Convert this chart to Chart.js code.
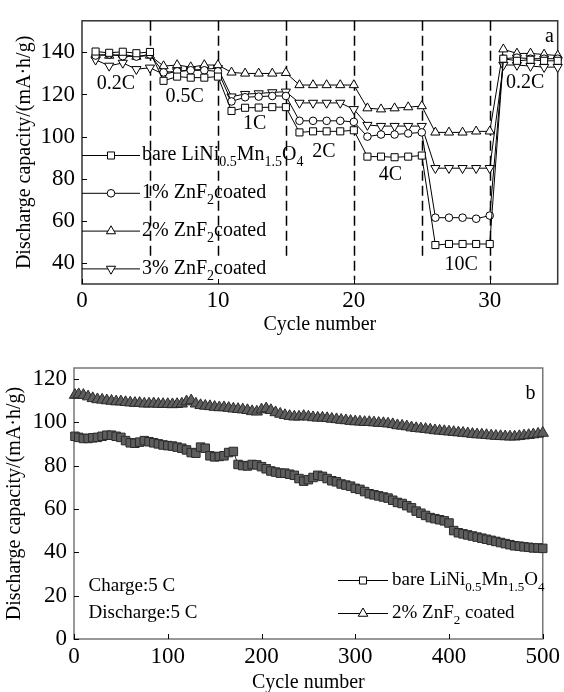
<!DOCTYPE html>
<html>
<head>
<meta charset="utf-8">
<script src="https://cdn.jsdelivr.net/npm/chart.js@4.4.1/dist/chart.umd.min.js"></script>
<style>
  html, body { margin: 0; padding: 0; background: #fff; }
  canvas { position: absolute; left: 0; }
  #rate { top: 0; }
  #cycle { top: 340px; }
</style>
</head>
<body>
<canvas id="rate" width="564" height="340"></canvas>
<canvas id="cycle" width="564" height="352"></canvas>
<script>
// ---- (a) rate capability ----
const rateCycles = [1, 2, 3, 4, 5, 6, 7, 8, 9, 10, 11, 12, 13, 14, 15, 16, 17, 18, 19, 20,
  21, 22, 23, 24, 25, 26, 27, 28, 29, 30, 31, 32, 33, 34, 35];
const rateBare = [140.4, 139.8, 140.3, 139.6, 140.2, 126.5, 128.5, 128, 128, 128.5,
  112.2, 113.7, 113.8, 114, 114, 102, 102.5, 102.5, 102.5, 103,
  90.5, 90.5, 90.2, 90.5, 91, 48.5, 49, 49, 49, 49,
  137, 136, 136.5, 136, 136];
const rateZn1 = [138.5, 139, 138.2, 138, 139, 130.5, 131, 131.5, 131.5, 131,
  116.7, 118.7, 119, 119.3, 119.3, 107.5, 107.5, 107.5, 107.5, 107,
  100, 101, 101, 101.5, 102, 61.5, 61.5, 61.5, 61, 62.5,
  137, 137.5, 137, 137, 137];
const rateZn2 = [139, 138.5, 139, 138, 138.5, 133.5, 134, 133, 134, 134,
  130.5, 130, 130, 130, 130.3, 124.5, 124.5, 124.5, 124.5, 124.5,
  113.5, 113, 113.5, 114, 114.5, 102, 102, 102, 102.5, 102.5,
  141.5, 139.5, 139.5, 139, 138.5];
const rateZn3 = [136.5, 133.6, 135, 132, 132.7, 129.6, 131, 131.5, 132, 132.5,
  119, 120.2, 120.5, 121, 121.3, 116, 116, 116, 116, 113,
  105.5, 105, 105, 105, 105, 85, 85, 85, 85, 85,
  134, 134, 133.5, 133, 133];
const rateNames = ['bare LiNi_{0.5}Mn_{1.5}O_{4}', '1% ZnF_{2}coated', '2% ZnF_{2}coated', '3% ZnF_{2}coated'];
const rateSteps = ['0.2C', '0.5C', '1C', '2C', '4C', '10C', '0.2C'];
const rateBounds = [5, 10, 15, 20, 25, 30];
const rateXTicks = [0, 10, 20, 30];
const rateYTicks = [40, 60, 80, 100, 120, 140];

// ---- (b) cycling at 5C ----
const longCycles = [1, 5, 10, 15, 20, 25, 30, 35, 40, 45, 50, 55, 60, 65, 70, 75, 80, 85, 90, 95,
  100, 105, 110, 115, 120, 125, 130, 135, 140, 145, 150, 155, 160, 165, 170, 175, 180, 185, 190, 195,
  200, 205, 210, 215, 220, 225, 230, 235, 240, 245, 250, 255, 260, 265, 270, 275, 280, 285, 290, 295,
  300, 305, 310, 315, 320, 325, 330, 335, 340, 345, 350, 355, 360, 365, 370, 375, 380, 385, 390, 395,
  400, 405, 410, 415, 420, 425, 430, 435, 440, 445, 450, 455, 460, 465, 470, 475, 480, 485, 490, 495, 500];
const longBare = [93.5, 93, 92.5, 92.5, 92.8, 93, 93.5, 94, 94, 93.5,
  93, 91.5, 90.5, 90.3, 90.8, 91.5, 91, 90.5, 90, 89.5,
  89.2, 89, 88.5, 88, 87.2, 86, 85.7, 88.5, 88, 84.5,
  84, 84.2, 84.5, 86, 86.5, 80.5, 80, 79.8, 80.5, 80.3,
  79.5, 78.5, 77.5, 77, 76.5, 76.5, 76, 75.5, 74, 72.8,
  73.5, 74.5, 75.5, 75, 74, 73, 72.5, 71.5, 71, 70.5,
  69.5, 69, 68, 67, 66.5, 66, 65.5, 65, 64, 63,
  62.5, 61.5, 60.5, 59, 58, 57, 56, 55.5, 55, 54.5,
  53.5, 50, 49, 48.5, 48, 47.5, 47, 46.5, 46, 45.5,
  45, 44.5, 44, 43.5, 43, 42.8, 42.5, 42.3, 42, 42,
  41.8];
const longZn2 = [112.5, 112.8, 112.5, 111.8, 111, 110.5, 110.3, 110, 109.8, 109.5,
  109.5, 109.2, 109, 108.8, 108.8, 108.5, 108.5, 108.6, 108.4, 108.3,
  108.3, 108.2, 108.3, 108.5, 109.5, 110, 108.5, 107.8, 107.5, 107.3,
  107, 106.8, 106.8, 106.5, 106.2, 106, 105.8, 105.5, 105, 104.8,
  105.8, 106.3, 105.5, 104.5, 103.8, 103.2, 102.8, 102.5, 102.5, 102.8,
  102.5, 102.2, 102, 102, 101.8, 101.5, 101.3, 101, 100.8, 100.5,
  100.3, 100.2, 100, 100, 99.8, 99.6, 99.5, 99.3, 99, 98.5,
  98.3, 98, 97.5, 97.2, 97, 96.8, 96.5, 96.2, 96, 95.8,
  95.6, 95.4, 95.2, 95, 94.8, 94.5, 94.3, 94.2, 94, 93.8,
  93.6, 93.5, 93.4, 93.3, 93.3, 93.5, 93.8, 94, 94.3, 94.6,
  95];
const longNames = ['bare LiNi_{0.5}Mn_{1.5}O_{4}', '2% ZnF_{2} coated'];
const longNotes = ['Charge:5 C', 'Discharge:5 C'];
const longXTicks = [0, 100, 200, 300, 400, 500];
const longYTicks = [0, 20, 40, 60, 80, 100, 120];

const yTitle = 'Discharge capacity/(mA\u00b7h/g)';
const xTitle = 'Cycle number';
const SERIF = "'Liberation Serif', 'Times New Roman', serif";

Chart.defaults.color = '#000';
Chart.defaults.font.family = SERIF;

// text with _{...} subscripts
function richText(ctx, str, x, y, size) {
  const parts = str.split(/(_\{[^}]*\})/).filter(Boolean)
    .map(s => s.startsWith('_{') ? [s.slice(2, -1), true] : [s, false]);
  const sub = Math.round(size * 0.68);
  ctx.textAlign = 'left';
  ctx.textBaseline = 'middle';
  let cx = x;
  parts.forEach(([t, isSub]) => {
    ctx.font = (isSub ? sub : size) + 'px ' + SERIF;
    ctx.fillText(t, cx, isSub ? y + size * 0.38 : y);
    cx += ctx.measureText(t).width;
  });
}

function pointOpts(ds) {
  return { pointStyle: ds.pointStyle, rotation: ds.pointRotation || 0, radius: ds.legendRadius || ds.pointRadius, borderWidth: 1 };
}

// box around the plot and inward tick marks
const frame = {
  id: 'frame',
  beforeDatasetsDraw(chart, args, o) {
    const { ctx, chartArea: a, scales } = chart;
    ctx.save();
    ctx.strokeStyle = o.color;
    ctx.lineWidth = o.width;
    ctx.strokeRect(a.left, a.top, a.right - a.left, a.bottom - a.top);
    ctx.strokeStyle = '#000';
    ctx.lineWidth = 1;
    ctx.beginPath();
    scales.x.ticks.forEach(t => {
      const p = Math.round(scales.x.getPixelForValue(t.value)) + 0.5;
      ctx.moveTo(p, a.bottom);
      ctx.lineTo(p, a.bottom - o.tick);
    });
    scales.y.ticks.forEach(t => {
      const p = Math.round(scales.y.getPixelForValue(t.value)) + 0.5;
      ctx.moveTo(a.left, p);
      ctx.lineTo(a.left + o.tick, p);
    });
    ctx.stroke();
    ctx.restore();
  }
};

// dashed separators between C-rates
const rateDashes = {
  id: 'rateDashes',
  beforeDatasetsDraw(chart, args, o) {
    const { ctx, chartArea: a, scales: { x, y } } = chart;
    ctx.save();
    ctx.strokeStyle = '#000';
    ctx.lineWidth = 1.5;
    ctx.setLineDash([10, 5]);
    rateBounds.forEach((b, i) => {
      const px = Math.round(x.getPixelForValue(b)) + 0.5;
      ctx.beginPath();
      ctx.moveTo(px, a.top);
      ctx.lineTo(px, y.getPixelForValue(o.ends[i]));
      ctx.stroke();
    });
    ctx.restore();
  }
};

// legend drawn inside the plot: line, marker, label
const inLegend = {
  id: 'inLegend',
  afterDatasetsDraw(chart, args, o) {
    const ctx = chart.ctx;
    ctx.save();
    o.order.forEach((di, row) => {
      const ds = chart.data.datasets[di];
      const y = o.y0 + row * o.dy;
      ctx.strokeStyle = '#000';
      ctx.lineWidth = 1;
      ctx.beginPath();
      ctx.moveTo(o.x0, y + 0.5);
      ctx.lineTo(o.x1, y + 0.5);
      ctx.stroke();
      ctx.fillStyle = '#fff';
      ctx.strokeStyle = '#000';
      Chart.helpers.drawPoint(ctx, pointOpts(ds), (o.x0 + o.x1) / 2, y + 0.5);
      ctx.fillStyle = '#000';
      richText(ctx, ds.label, o.x1 + o.gap, y, o.size);
    });
    ctx.restore();
  }
};

// free text placed in data coordinates
const notes = {
  id: 'notes',
  afterDatasetsDraw(chart, args, o) {
    const { ctx, scales: { x, y } } = chart;
    ctx.save();
    ctx.fillStyle = '#000';
    ctx.textBaseline = 'middle';
    o.items.forEach(it => {
      ctx.font = it.size + 'px ' + SERIF;
      ctx.textAlign = it.align || 'center';
      ctx.fillText(it.text, x.getPixelForValue(it.at[0]), y.getPixelForValue(it.at[1]));
    });
    ctx.restore();
  }
};

function axis(min, max, ticks, size, pad, opts) {
  return Object.assign({
    type: 'linear', min, max,
    grid: { display: false, drawTicks: false },
    border: { display: false },
    afterBuildTicks: s => { s.ticks = ticks.map(v => ({ value: v })); },
    ticks: { font: { size: size }, padding: pad }
  }, opts);
}

const rateMarks = [
  { pointStyle: 'rect', pointRadius: 5 },
  { pointStyle: 'circle', pointRadius: 3.8 },
  { pointStyle: 'triangle', pointRadius: 5.3 },
  { pointStyle: 'triangle', pointRadius: 5.3, pointRotation: 180 }
];
const rateSeries = [rateBare, rateZn1, rateZn2, rateZn3];

new Chart(document.getElementById('rate'), {
  type: 'line',
  data: {
    datasets: rateSeries.map((vals, i) => Object.assign({
      label: rateNames[i],
      data: rateCycles.map((c, k) => ({ x: c, y: vals[k] })),
      borderColor: '#000',
      borderWidth: 1,
      pointBackgroundColor: '#fff',
      pointBorderColor: '#000',
      pointBorderWidth: 1,
      tension: 0,
      clip: false
    }, rateMarks[i]))
  },
  options: {
    responsive: false,
    animation: false,
    devicePixelRatio: 1,
    layout: { padding: { top: 12, right: 2, left: 0, bottom: 0 } },
    scales: {
      x: axis(0, 35, rateXTicks, 23, 3, {
        afterFit: s => { s.height = 56; },
        title: { display: true, text: xTitle, font: { size: 20, lineHeight: 1 }, padding: { top: 0, bottom: 5 } }
      }),
      y: axis(30, 155, rateYTicks, 23, 7, {
        afterFit: s => { s.width = 82; },
        title: { display: true, text: yTitle, font: { size: 20, lineHeight: 1 }, padding: { top: 15, bottom: 0 } }
      })
    },
    plugins: {
      legend: { display: false },
      tooltip: { enabled: false },
      frame: { color: '#333', width: 1.5, tick: 5 },
      rateDashes: { ends: [41, 41, 41, 32, 43, 32] },
      inLegend: { order: [0, 1, 2, 3], x0: 82, x1: 140, y0: 155, dy: 37.8, gap: 2, size: 20 },
      notes: {
        items: [
          { text: rateSteps[0], at: [2.5, 125], size: 20 },
          { text: rateSteps[1], at: [7.55, 118.7], size: 20 },
          { text: rateSteps[2], at: [12.7, 106], size: 20 },
          { text: rateSteps[3], at: [17.8, 92.8], size: 20 },
          { text: rateSteps[4], at: [22.7, 81.7], size: 20 },
          { text: rateSteps[5], at: [27.9, 39.2], size: 20 },
          { text: rateSteps[6], at: [32.6, 125.4], size: 20 },
          { text: 'a', at: [34.4, 147.5], size: 20 }
        ]
      }
    }
  },
  plugins: [frame, rateDashes, inLegend, notes]
});

const longMarks = [
  { pointStyle: 'rect', pointRadius: 6, legendRadius: 5 },
  { pointStyle: 'triangle', pointRadius: 6.5, legendRadius: 5.5 }
];
const longSeries = [longBare, longZn2];

new Chart(document.getElementById('cycle'), {
  type: 'line',
  data: {
    datasets: longSeries.map((vals, i) => Object.assign({
      label: longNames[i],
      data: longCycles.map((c, k) => ({ x: c, y: vals[k] })),
      borderColor: '#222',
      borderWidth: 1,
      pointBackgroundColor: '#5e5e5e',
      pointBorderColor: '#2a2a2a',
      pointBorderWidth: 1,
      tension: 0,
      clip: false
    }, longMarks[i]))
  },
  options: {
    responsive: false,
    animation: false,
    devicePixelRatio: 1,
    layout: { padding: { top: 28, right: 9, left: 0, bottom: 0 } },
    scales: {
      x: axis(0, 500, longXTicks, 23, 4, {
        afterFit: s => { s.height = 53; },
        title: { display: true, text: xTitle, font: { size: 20, lineHeight: 1 }, padding: { top: 0, bottom: -1 } }
      }),
      y: axis(0, 125, longYTicks, 23, 7, {
        afterFit: s => { s.width = 74; },
        title: { display: true, text: yTitle, font: { size: 20, lineHeight: 1 }, padding: { top: 5, bottom: 0 } }
      })
    },
    plugins: {
      legend: { display: false },
      tooltip: { enabled: false },
      frame: { color: '#777', width: 1.5, tick: 5 },
      inLegend: { order: [0, 1], x0: 338, x1: 388, y0: 240, dy: 33, gap: 4, size: 19 },
      notes: {
        items: [
          { text: longNotes[0], at: [15.5, 24.5], size: 19, align: 'left' },
          { text: longNotes[1], at: [15.5, 12], size: 19, align: 'left' },
          { text: 'b', at: [487, 113.2], size: 20 }
        ]
      }
    }
  },
  plugins: [frame, inLegend, notes]
});
</script>
</body>
</html>
